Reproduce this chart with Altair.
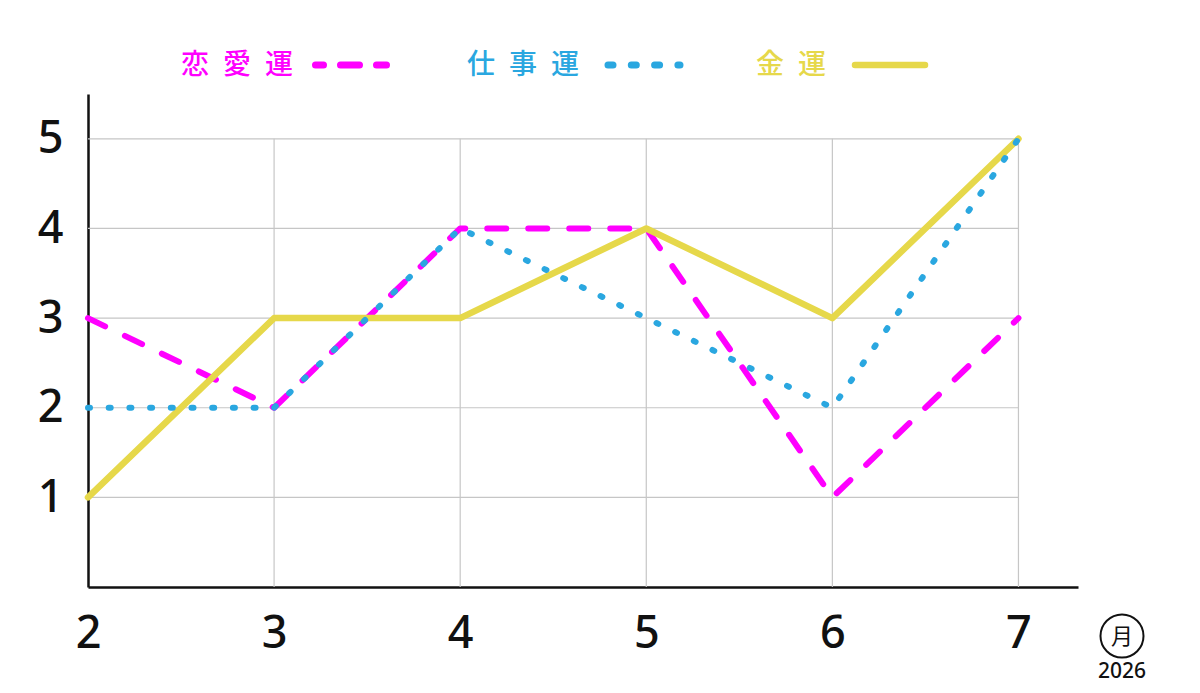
import altair as alt
import pandas as pd

# ---- data ----
months = [2, 3, 4, 5, 6, 7]
love = [3, 2, 4, 4, 1, 3]
work = [2, 2, 4, 3, 2, 5]
money = [1, 3, 3, 4, 3, 5]
series_names = ["恋愛運", "仕事運", "金運"]
series_colors = ["#ff00ff", "#2aa7e0", "#e6d84a"]
y_ticks = [1, 2, 3, 4, 5]
x_grid = [3, 4, 5, 6, 7]
unit_label = "月"
year_label = "2026"

FONT = "Noto Sans CJK JP"
NUMFONT = "Noto Sans"
W, H = 990, 493
XMAX = 7.32
YMAX = 5.5
INK = "#111111"
GRID = "#c6c6c6"

xs = alt.Scale(domain=[2, XMAX], nice=False, zero=False)
ys = alt.Scale(domain=[0, YMAX], nice=False, zero=False)

x_axis = alt.Axis(values=months, format="d", grid=False, ticks=False,
                  domainColor=INK, domainWidth=2.5, labelFont=NUMFONT,
                  labelFontSize=45, labelFontWeight=500, labelColor=INK,
                  labelPadding=46, labelBaseline="middle", title=None,
                  labelFlush=False, labelOverlap=False)
y_axis = alt.Axis(values=y_ticks, format="d", grid=False, ticks=False,
                  domainColor=INK, domainWidth=2.5, labelFont=NUMFONT,
                  labelFontSize=45, labelFontWeight=500, labelColor=INK,
                  labelPadding=38, labelAlign="center", labelBaseline="middle",
                  title=None, labelFlush=False, labelOverlap=False)

rows = []
for name, vals in zip(series_names, [love, work, money]):
    for m, v in zip(months, vals):
        rows.append({"x": m, "y": v, "series": name})
df = pd.DataFrame(rows)

hgrid_df = pd.DataFrame({"y": y_ticks, "x": [months[0]] * len(y_ticks),
                         "x2": [months[-1]] * len(y_ticks)})
hgrid = alt.Chart(hgrid_df).mark_rule(color=GRID, strokeWidth=1.2).encode(
    x=alt.X("x:Q", scale=xs, axis=x_axis),
    x2="x2:Q",
    y=alt.Y("y:Q", scale=ys, axis=y_axis),
)

vgrid_df = pd.DataFrame({"x": x_grid, "y": [0] * len(x_grid),
                         "y2": [y_ticks[-1]] * len(x_grid)})
vgrid = alt.Chart(vgrid_df).mark_rule(color=GRID, strokeWidth=1.2).encode(
    x=alt.X("x:Q", scale=xs, axis=x_axis),
    y=alt.Y("y:Q", scale=ys, axis=y_axis),
    y2="y2:Q",
)

styles = {
    "恋愛運": dict(strokeWidth=6, strokeDash=[19, 22]),
    "仕事運": dict(strokeWidth=6, strokeDash=[2, 18.7]),
    "金運": dict(strokeWidth=6.5),
}
color_of = dict(zip(series_names, series_colors))

line_layers = []
for name in ["恋愛運", "金運", "仕事運"]:
    line_layers.append(
        alt.Chart(df).transform_filter(alt.datum.series == name)
        .mark_line(color=color_of[name], strokeCap="round", strokeJoin="round",
                   **styles[name])
        .encode(x=alt.X("x:Q", scale=xs, axis=x_axis),
                y=alt.Y("y:Q", scale=ys, axis=y_axis),
                order="x:Q")
    )

one = pd.DataFrame({"a": [0]})
leg_text_x = [93, 379, 668]
leg_line = [(227.5, 298.5, dict(strokeWidth=7, strokeDash=[19, 17], strokeDashOffset=11)),
            (520, 592, dict(strokeWidth=7, strokeDash=[5, 18.3])),
            (767, 837, dict(strokeWidth=6.5))]
legend_layers = []
for i, name in enumerate(series_names):
    legend_layers.append(
        alt.Chart(one).mark_text(text="\u2002".join(list(name)), font=FONT,
                                 fontSize=28, fontWeight=500, align="left",
                                 baseline="middle", color=series_colors[i])
        .encode(x=alt.value(leg_text_x[i]), y=alt.value(-28))
    )
    x0, x1, st = leg_line[i]
    legend_layers.append(
        alt.Chart(one).mark_rule(color=series_colors[i], strokeCap="round", **st)
        .encode(x=alt.value(x0), x2=alt.value(x1), y=alt.value(-29))
    )

badge_circle = alt.Chart(one).mark_point(shape="circle", filled=False, size=1850,
                                         stroke=INK, strokeWidth=2, opacity=1).encode(
    x=alt.value(1034), y=alt.value(542))
badge_text = alt.Chart(one).mark_text(text=unit_label, font=FONT, fontSize=22,
                                      fontWeight=400, color=INK, baseline="middle",
                                      align="center").encode(
    x=alt.value(1034), y=alt.value(543))
year_text = alt.Chart(one).mark_text(text=year_label, font=NUMFONT, fontSize=21,
                                     fontWeight=500, color=INK, baseline="middle",
                                     align="center").encode(
    x=alt.value(1034), y=alt.value(578))

chart = alt.layer(hgrid, vgrid, *line_layers, *legend_layers,
                  badge_circle, badge_text, year_text).properties(
    width=W, height=H,
    autosize=alt.AutoSizeParams(type="none"),
    padding={"left": 80, "top": 86, "right": 100, "bottom": 105},
).configure(background="white").configure_view(strokeWidth=0, stroke="transparent")

chart.save("out.html", embed_options={"renderer": "svg", "actions": False})
